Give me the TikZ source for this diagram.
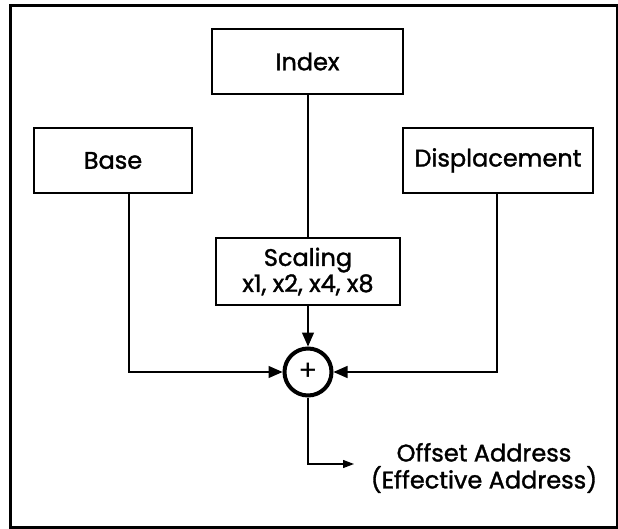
\documentclass[tikz,border=0pt]{standalone}
\usepackage{fontspec}
\setmainfont{Poppins}
\newfontfamily\heavyfont{Poppins}[FakeBold=1.4]
\usetikzlibrary{arrows.meta}
\tikzstyle{register} = [rectangle, draw=black, line width=1.3pt, inner sep=0pt, text centered, font=\heavyfont\fontsize{24}{26}\selectfont]
\tikzstyle{adder} = [circle, draw=black, line width=4pt, minimum size=47pt, inner sep=0pt, font=\fontsize{28}{28}\selectfont]
\tikzstyle{line} = [line width=1.3pt]
\tikzstyle{arrow} = [line width=1.3pt, -{Triangle[length=14pt, width=12pt]}]
\tikzstyle{outarrow} = [line width=1.3pt, -{Triangle[length=11pt, width=8pt]}]

\begin{document}
\begin{tikzpicture}[x=1pt, y=-1pt]

        \useasboundingbox (0,0) rectangle (618,529);
        \draw [line width=3pt] (10.5,5.5) rectangle (617,527);

        \node (index) [register, minimum width=191pt, minimum height=65pt] at (307.5,61.5) {Index};
        \node (base) [register, minimum width=158pt, minimum height=65pt] at (113,160.5) {Base};
        \node (disp) [register, minimum width=190pt, minimum height=65pt] at (498,160.5) {Displacement};
        \node (scale) [register, minimum width=184pt, minimum height=67pt, align=center] at (308,271.5) {Scaling\\x1, x2, x4, x8};
        \node (sum) [adder] at (308,372) {+};
        \node (result) [align=center, font=\heavyfont\fontsize{24}{27}\selectfont] at (484,468) {Offset Address\\(Effective Address)};

        \coordinate (baseturn) at (129,372);
        \coordinate (dispturn) at (497,372);
        \coordinate (outturn) at (308,464);
        \coordinate (outend) at (354,464);

        % Lineas
        \draw [line] (index.south -| sum) -- (scale.north -| sum);
        \draw [arrow] (scale.south -| sum) -- (sum.north);
        \draw [arrow] (base.south -| baseturn) -- (baseturn) -- (sum.west);
        \draw [arrow] (disp.south -| dispturn) -- (dispturn) -- (sum.east);
        \draw [outarrow] (sum.south) -- (outturn) -- (outend);

    \end{tikzpicture}
\end{document}
